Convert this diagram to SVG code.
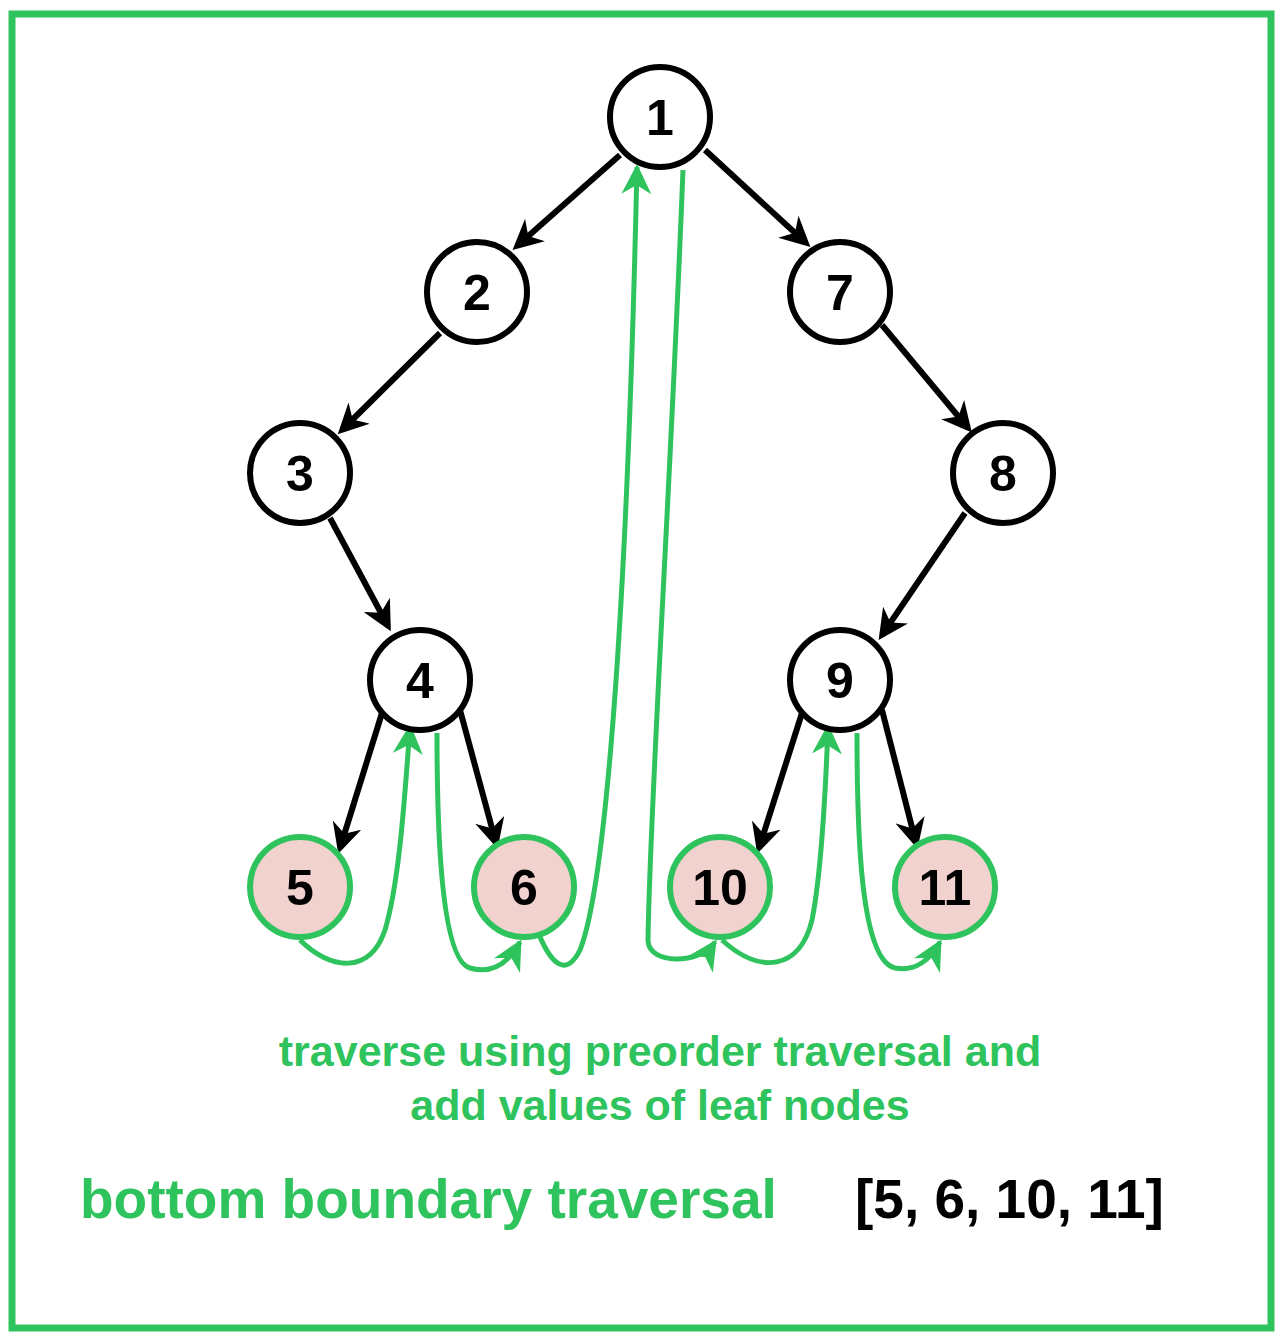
<svg xmlns="http://www.w3.org/2000/svg" width="1284" height="1336" viewBox="0 0 1284 1336">
<style>
.n{fill:#fff;stroke:#000;stroke-width:6}
.l{fill:#f2d2cf;stroke:#2ec35c;stroke-width:6}
.t{font-family:"Liberation Sans",Arial,sans-serif;font-weight:bold;font-size:50px;text-anchor:middle;fill:#000}
.e{stroke:#000;stroke-width:6;fill:none;marker-end:url(#ab)}
.g{stroke:#2ec35c;stroke-width:5;fill:none;marker-end:url(#ag)}
.c{font-family:"Liberation Sans",Arial,sans-serif;font-weight:bold;fill:#2ec35c}
</style>
<defs>
<marker id="ab" viewBox="0 0 10 10" refX="8" refY="5" markerWidth="30" markerHeight="30" orient="auto" markerUnits="userSpaceOnUse"><path d="M0,0 L10,5 L0,10 L3,5 Z" fill="#000"/></marker>
<marker id="ag" viewBox="0 0 10 10" refX="9" refY="5" markerWidth="30" markerHeight="30" orient="auto" markerUnits="userSpaceOnUse"><path d="M0,0 L10,5 L0,10 L3,5 Z" fill="#2ec35c"/></marker>
</defs>
<rect x="12" y="14" width="1259" height="1314" fill="#fff" stroke="#2ec35c" stroke-width="7"/>
<g id="connectors">
<path class="e" d="M620,155 L517,246"/>
<path class="e" d="M705,150 L806,243"/>
<path class="e" d="M440,333 L342,430"/>
<path class="e" d="M882,325 L968,428"/>
<path class="e" d="M330,518 L388,626"/>
<path class="e" d="M965,513 L882,635"/>
<path class="e" d="M382,713 L340,848"/>
<path class="e" d="M460,710 L496,843"/>
<path class="e" d="M802,713 L759,848"/>
<path class="e" d="M882,710 L916,843"/>
<path class="g" d="M300,940 C330,970 370,975 385,930 C400,880 405,790 410,727"/>
<path class="g" d="M437,733 C437,820 440,960 470,968 C495,975 510,960 520,942"/>
<path class="g" d="M540,937 C550,960 565,980 580,950 C600,900 625,700 637,167"/>
<path class="g" d="M683,170 C670,500 650,800 648,940 C648,965 700,965 715,942"/>
<path class="g" d="M722,940 C760,975 800,970 812,920 C822,870 826,780 828,727"/>
<path class="g" d="M857,733 C857,830 860,960 895,968 C915,972 930,960 940,942"/>
</g>
<g id="n1"><circle class="n" cx="660" cy="117" r="50"/><text class="t" x="660" y="135">1</text></g>
<g id="n2"><circle class="n" cx="477" cy="292" r="50"/><text class="t" x="477" y="310">2</text></g>
<g id="n7"><circle class="n" cx="840" cy="292" r="50"/><text class="t" x="840" y="310">7</text></g>
<g id="n3"><circle class="n" cx="300" cy="473" r="50"/><text class="t" x="300" y="491">3</text></g>
<g id="n8"><circle class="n" cx="1003" cy="473" r="50"/><text class="t" x="1003" y="491">8</text></g>
<g id="n4"><circle class="n" cx="420" cy="680" r="50"/><text class="t" x="420" y="698">4</text></g>
<g id="n9"><circle class="n" cx="840" cy="680" r="50"/><text class="t" x="840" y="698">9</text></g>
<g id="n5"><circle class="l" cx="300" cy="887" r="50"/><text class="t" x="300" y="905">5</text></g>
<g id="n6"><circle class="l" cx="524" cy="887" r="50"/><text class="t" x="524" y="905">6</text></g>
<g id="n10"><circle class="l" cx="720" cy="887" r="50"/><text class="t" x="720" y="905">10</text></g>
<g id="n11"><circle class="l" cx="945" cy="887" r="50"/><text class="t" x="945" y="905">11</text></g>
<text class="c" x="660" y="1066" font-size="43" text-anchor="middle">traverse using preorder traversal and</text>
<text class="c" x="660" y="1120" font-size="43" text-anchor="middle">add values of leaf nodes</text>
<text class="c" x="80" y="1218" font-size="55">bottom boundary traversal</text>
<text x="855" y="1218" font-size="55" font-family="Liberation Sans,Arial,sans-serif" font-weight="bold" fill="#000">[5, 6, 10, 11]</text>
</svg>
